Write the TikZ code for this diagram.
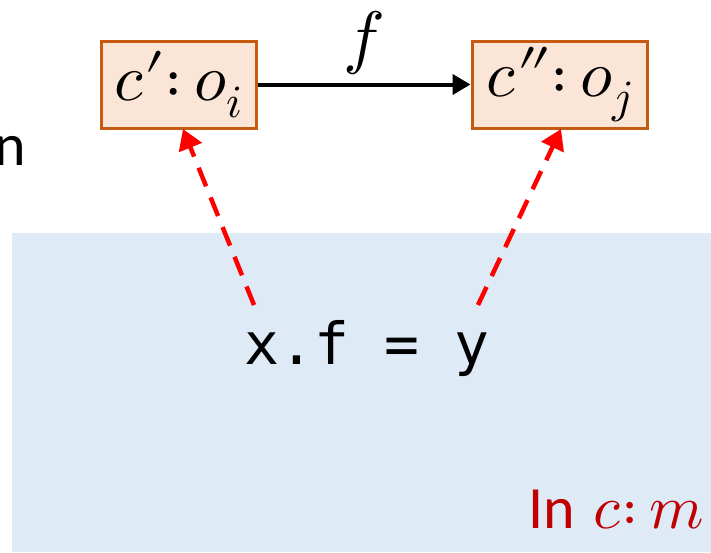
\documentclass[tikz,border=0pt]{standalone}
\usepackage{fontspec}
\usepackage{unicode-math}
\setmathfont{Latin Modern Math}
\setsansfont{Carlito}
\setmonofont{DejaVu Sans Mono}
\usetikzlibrary{arrows.meta}
\definecolor{boxfill}{HTML}{FBE5D6}
\definecolor{boxline}{HTML}{C55A11}
\definecolor{bluebg}{HTML}{DEEBF7}
\definecolor{darkred}{HTML}{C00000}
\begin{document}
\begin{tikzpicture}[x=1pt,y=-1pt,
  objbox/.style={draw=boxline, fill=boxfill, line width=3pt, inner sep=0pt,
    minimum width=155pt, minimum height=87pt, font=\fontsize{66}{70}\selectfont},
  flowarrow/.style={line width=4pt, -{Triangle[length=18pt,width=20pt]}},
  linkarrow/.style={draw=red, line width=4.5pt, dash pattern=on 20pt off 12pt,
    -{Triangle[length=20pt,width=24pt]}}
]
\useasboundingbox (0,0) rectangle (711,552);
\fill[bluebg] (12,233) rectangle (711,552);
\node[anchor=base east, font=\sffamily\fontsize{60}{60}\selectfont, inner sep=0pt] (cut) at (26,165) {n};
\node[objbox] (b1) at (178.5,84.5) {$c\prime{:}\,o_i$};
\node[objbox, minimum width=175pt] (b2) at (559.5,84.5) {$c\dprime{:}\,o_j$};
\draw[flowarrow] (b1.east) -- (b2.west) node[midway, above=4pt, font=\fontsize{70}{70}\selectfont] (lf) {$f$};
\node[font=\ttfamily\fontsize{58}{60}\selectfont, inner sep=0pt, anchor=base] (code) at (367,364) {x.f = y};
\coordinate (s1) at (254,305);
\coordinate (s2) at (478,305);
\coordinate (t1) at (183,129);
\coordinate (t2) at (561,129);
\draw[linkarrow] (s1) -- (t1);
\draw[linkarrow] (s2) -- (t2);
\node[anchor=base east, inner sep=0pt, text=darkred, font=\fontsize{62}{62}\selectfont] (ctx) at (704,528) {{\sffamily\fontsize{60}{60}\selectfont In} $c{:}\,m$};
\end{tikzpicture}
\end{document}
